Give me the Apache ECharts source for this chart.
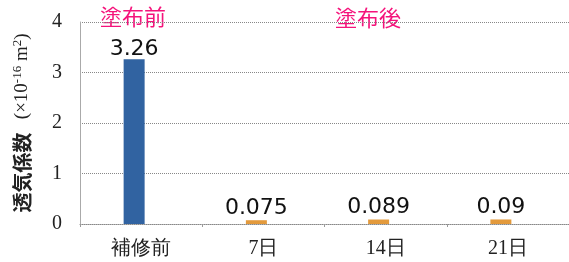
<!DOCTYPE html>
<html>
<head>
<meta charset="utf-8">
<script src="https://cdn.jsdelivr.net/npm/echarts@6/dist/echarts.min.js"></script>
<style>
  html, body { margin: 0; padding: 0; background: #fff; }
  #chart { width: 569px; height: 262px; }
</style>
</head>
<body>
<div id="chart"></div>
<script>
const categories = ["補修前", "7日", "14日", "21日"];
const values = [3.26, 0.075, 0.089, 0.09];
const valueLabels = ["3.26", "0.075", "0.089", "0.09"];
const yTicks = [0, 1, 2, 3, 4];

const chart = echarts.init(document.getElementById("chart"));

const barData = values.map((v, i) => ({
  value: v,
  itemStyle: { color: i === 0 ? "#3163a1" : "#e39a3c" },
  label: { formatter: valueLabels[i], distance: i === 0 ? -1 : 1 },
}));

chart.setOption({
  animation: false,
  grid: { left: 80, right: 0, top: 22, bottom: 38 },
  xAxis: {
    type: "category",
    data: categories,
    axisLine: { lineStyle: { color: "#888", type: "dotted" } },
    axisTick: { show: true, length: 3, lineStyle: { color: "#999" } },
    axisLabel: {
      fontFamily: "Liberation Serif, serif",
      fontSize: 20,
      color: "#222",
      margin: 15,
    },
  },
  yAxis: {
    type: "value",
    min: yTicks[0],
    max: yTicks[yTicks.length - 1],
    interval: 1,
    axisLine: { show: true, lineStyle: { color: "#aaa" } },
    axisTick: { show: false },
    axisLabel: {
      fontFamily: "Liberation Serif, serif",
      fontSize: 20,
      color: "#222",
      margin: 18,
    },
    splitLine: { lineStyle: { color: "#888", type: "dotted", width: 1 } },
    name: "{b|透気係数}    {p|(×10}{s|-16}{p| m}{s|2}{p|)}",
    nameLocation: "middle",
    nameRotate: 90,
    nameGap: 46,
    nameTextStyle: {
      rich: {
        b: { fontSize: 20, fontWeight: "bold", color: "#222", fontFamily: "Noto Sans CJK JP" },
        p: { fontSize: 19, color: "#222", fontFamily: "Liberation Serif, serif" },
        s: { fontSize: 13, color: "#222", fontFamily: "Liberation Serif, serif", verticalAlign: "top", padding: [0, 0, 10, 0] },
      },
    },
  },
  series: [
    {
      type: "bar",
      data: barData,
      barWidth: 21,
      barGap: "0%",
      label: {
        show: true,
        position: "top",
        color: "#111",
        fontSize: 22,
        fontFamily: "DejaVu Sans, sans-serif",
      },
    },
    {
      // empty companion series, only shifts the bars left inside each category
      type: "bar",
      data: values.map(() => null),
      barWidth: 14,
      silent: true,
    },
  ],
  graphic: [
    {
      type: "text",
      left: 100,
      top: 6,
      style: { text: "塗布前", fill: "#f5137b", fontSize: 22, fontFamily: "Noto Sans CJK JP" },
    },
    {
      type: "text",
      left: 335,
      top: 7,
      style: { text: "塗布後", fill: "#f5137b", fontSize: 22, fontFamily: "Noto Sans CJK JP" },
    },
  ],
});
</script>
</body>
</html>
